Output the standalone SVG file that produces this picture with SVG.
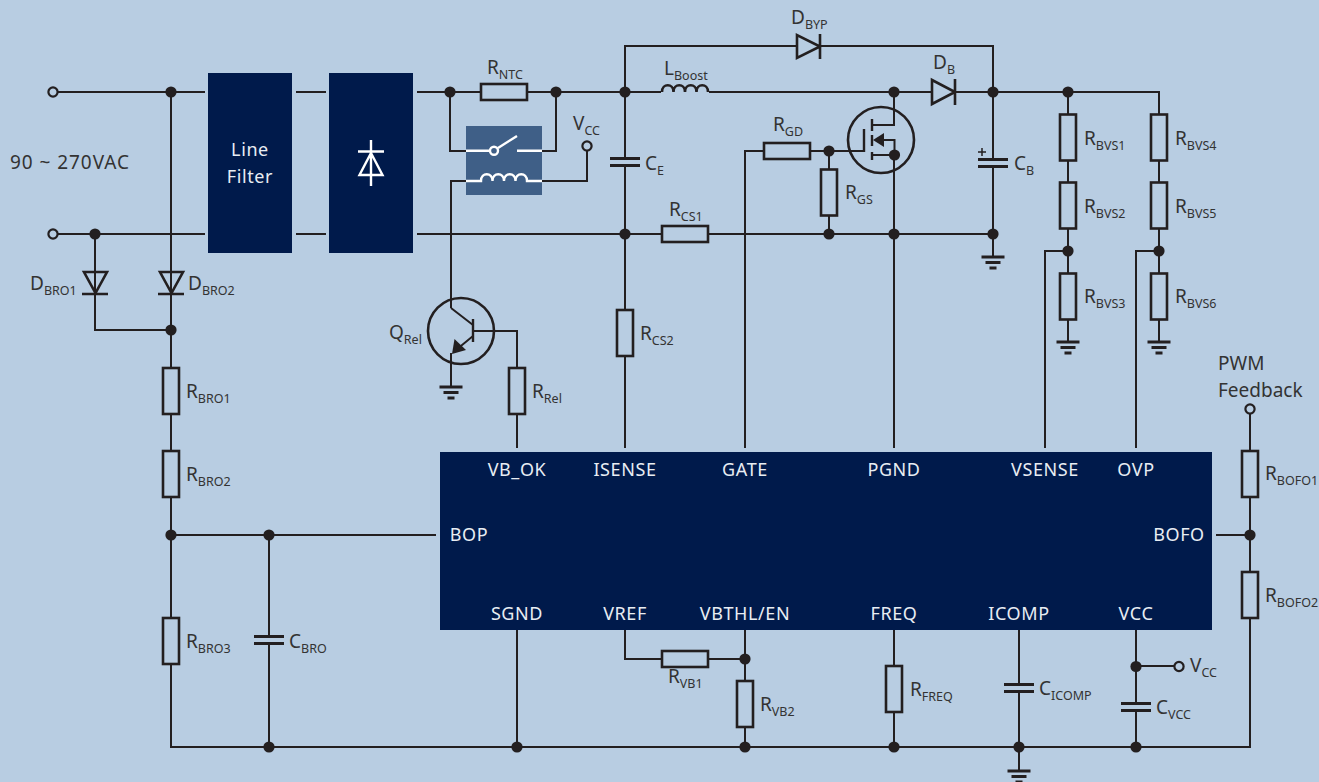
<svg xmlns="http://www.w3.org/2000/svg" xmlns:xlink="http://www.w3.org/1999/xlink" width="1319" height="782" viewBox="0 0 1319 782">
<style>
.w{fill:none;stroke:#231f20;stroke-width:2}
.r{fill:#b8cde2;stroke:#231f20;stroke-width:2.600}
.p{fill:none;stroke:#231f20;stroke-width:3}
.f{fill:#231f20;stroke:none}
.c{fill:#b8cde2;stroke:#231f20;stroke-width:2.200}
.b{fill:#001a4b}
.wh{fill:none;stroke:#fff;stroke-width:2.400}
text{font-family:"Noto Sans","Open Sans",sans-serif;font-size:19px;fill:#333}
.s{font-size:12.500px}
.t{fill:#e8edf3;font-size:18px;text-anchor:middle;letter-spacing:.6px}
</style>
<defs>
<circle id="dot" r="5.600" class="f"/>
<circle id="term" r="4.600" class="c"/>
<rect id="rh" x="-23" y="-8" width="46" height="16" class="r"/>
<rect id="rv" x="-8" y="-23" width="16" height="46" class="r"/>
<g id="cap"><rect x="-15" y="-6" width="30" height="9" fill="#b8cde2"/><path class="p" d="M-15-4.500H15M-15 2.500H15"/></g>
<path id="gnd" class="p" d="M-11.500 0H11.500M-7.500 5.500H7.500M-3.500 11H3.500"/>
</defs>
<rect width="1319" height="782" fill="#b8cde2"/>
<g id="connectors" class="w">
<path d="M53 92H205M296 92H326M417 92H1159V251M53 234H205M296 234H326M417 234H993V257"/>
<path d="M625 92V46H993V234M625 92V448M450 92V151H466M556 92V151H542M542 181H587V151M466 181H451V308"/>
<path d="M171 92V747H1250V409M95 234V330H171M171 535H436M269 535V747"/>
<path d="M451 308L473 325M473 331H517V448M473 336L456 350M451 353V387"/>
<path d="M894 92V125H872M894 155H872M864 151H829M884 140H894.500V155M894 125V100M894 155V448M745 448V151H829M829 151V234"/>
<path d="M1068 92V342M1068 251H1045V448M1159 251H1136V448M1159 251V342"/>
<path d="M1216 535H1250M517 630V747M625 630V659H745M745 630V747M894 630V747M1019 630V771M1136 630V747M1136 666H1174"/>
</g>
<g id="line-filter"><rect class="b" x="208" y="73" width="84" height="180"/><text class="t" x="250" y="156">Line</text><text class="t" x="250" y="183">Filter</text></g>
<g id="rectifier"><rect class="b" x="329" y="73" width="84" height="180"/><path class="wh" d="M371 140V186M358 151.500H384M371 153L359.500 175H382.500Z"/></g>
<g id="relay"><rect x="466" y="126" width="76" height="69" fill="#3f5f87"/><path class="wh" d="M466 150.700H490M498 148L517 136M517 150.700H542M466 181H481C481 172 492.500 172 492.500 181C492.500 172 504 172 504 181C504 172 515.500 172 515.500 181C515.500 172 527 172 527 181H542"/><circle cx="494" cy="150.700" r="4" fill="#3f5f87" stroke="#fff" stroke-width="2.400"/></g>
<g id="term-in1"><use xlink:href="#term" x="53" y="92"/></g>
<g id="term-in2"><use xlink:href="#term" x="53" y="234"/></g>
<text x="10" y="169" style="letter-spacing:.95px">90 ~ 270VAC</text>
<g id="D-BRO1"><path class="r" style="fill:none" d="M84 272H107L95.500 293ZM82 294H108"/><text x="30" y="290">D<tspan class="s" dy="5">BRO1</tspan></text></g>
<g id="D-BRO2"><path class="r" style="fill:none" d="M160 272H183L171.500 293ZM158 294H184"/><text x="188" y="290">D<tspan class="s" dy="5">BRO2</tspan></text></g>
<g id="R-BRO1"><use xlink:href="#rv" x="171" y="391"/><text x="186" y="398">R<tspan class="s" dy="5">BRO1</tspan></text></g>
<g id="R-BRO2"><use xlink:href="#rv" x="171" y="474"/><text x="186" y="481">R<tspan class="s" dy="5">BRO2</tspan></text></g>
<g id="R-BRO3"><use xlink:href="#rv" x="171" y="641"/><text x="186" y="648">R<tspan class="s" dy="5">BRO3</tspan></text></g>
<g id="C-BRO"><use xlink:href="#cap" x="269" y="641"/><text x="289" y="648">C<tspan class="s" dy="5">BRO</tspan></text></g>
<g id="R-NTC"><use xlink:href="#rh" x="504" y="92"/><text x="487" y="74">R<tspan class="s" dy="5">NTC</tspan></text></g>
<g id="term-vcc1"><use xlink:href="#term" x="587" y="146"/><text x="573" y="130">V<tspan class="s" dy="5">CC</tspan></text></g>
<g id="C-E"><use xlink:href="#cap" x="625" y="163"/><text x="645" y="170">C<tspan class="s" dy="5">E</tspan></text></g>
<g id="R-CS1"><use xlink:href="#rh" x="685" y="234"/><text x="669" y="216">R<tspan class="s" dy="5">CS1</tspan></text></g>
<g id="R-CS2"><use xlink:href="#rv" x="625" y="333"/><text x="640" y="340">R<tspan class="s" dy="5">CS2</tspan></text></g>
<g id="L-Boost"><rect x="661" y="84" width="48" height="10" fill="#b8cde2"/><path class="r" style="fill:none" d="M662 92C662 83 673.500 83 673.500 92C673.500 83 685 83 685 92C685 83 696.500 83 696.500 92C696.500 83 708 83 708 92"/><text x="664" y="75">L<tspan class="s" dy="5">Boost</tspan></text></g>
<g id="D-BYP"><path class="r" d="M797 35V58L820 46.500ZM820 34V59"/><text x="791" y="24">D<tspan class="s" dy="5">BYP</tspan></text></g>
<g id="D-B"><path class="r" d="M932 80V104L955 92ZM955 79V105"/><text x="933" y="69">D<tspan class="s" dy="5">B</tspan></text></g>
<g id="R-GD"><use xlink:href="#rh" x="787" y="151"/><text x="773" y="131">R<tspan class="s" dy="5">GD</tspan></text></g>
<g id="R-GS"><use xlink:href="#rv" x="829" y="192.500"/><text x="845" y="199">R<tspan class="s" dy="5">GS</tspan></text></g>
<g id="Q-MOS"><circle cx="881" cy="140" r="33" class="r" style="fill:none"/><path class="p" d="M864 129V152M872 119V131M872 135V146M872 152V160" style="stroke-width:2.400"/><path class="f" d="M873 140L884 133V147Z"/></g>
<g id="C-B"><use xlink:href="#cap" x="993" y="164"/><path class="w" style="stroke-width:1.500" d="M978 152H986M982 148V156"/><text x="1014" y="170">C<tspan class="s" dy="5">B</tspan></text></g>
<g id="gnd-cb"><use xlink:href="#gnd" x="993" y="257"/></g>
<g id="Q-Rel"><circle cx="461" cy="331" r="33" class="r" style="fill:none"/><path class="p" d="M473 319V342" style="stroke-width:2.400"/><path class="f" d="M452 354L454.500 339L466 350Z"/><text x="389" y="339">Q<tspan class="s" dy="5">Rel</tspan></text></g>
<g id="gnd-q"><use xlink:href="#gnd" x="451" y="387"/></g>
<g id="R-Rel"><use xlink:href="#rv" x="517" y="391"/><text x="532" y="398">R<tspan class="s" dy="5">Rel</tspan></text></g>
<g id="R-BVS1"><use xlink:href="#rv" x="1068" y="137.500"/><text x="1084" y="145">R<tspan class="s" dy="5">BVS1</tspan></text></g>
<g id="R-BVS2"><use xlink:href="#rv" x="1068" y="205.500"/><text x="1084" y="213">R<tspan class="s" dy="5">BVS2</tspan></text></g>
<g id="R-BVS3"><use xlink:href="#rv" x="1068" y="296.500"/><text x="1084" y="303">R<tspan class="s" dy="5">BVS3</tspan></text></g>
<g id="gnd-bvs3"><use xlink:href="#gnd" x="1068" y="342"/></g>
<g id="R-BVS4"><use xlink:href="#rv" x="1159" y="137.500"/><text x="1175" y="145">R<tspan class="s" dy="5">BVS4</tspan></text></g>
<g id="R-BVS5"><use xlink:href="#rv" x="1159" y="205.500"/><text x="1175" y="213">R<tspan class="s" dy="5">BVS5</tspan></text></g>
<g id="R-BVS6"><use xlink:href="#rv" x="1159" y="296.500"/><text x="1175" y="303">R<tspan class="s" dy="5">BVS6</tspan></text></g>
<g id="gnd-bvs6"><use xlink:href="#gnd" x="1159" y="342"/></g>
<g id="chip"><rect class="b" x="440" y="452" width="772" height="178"/>
<text class="t" x="517" y="476">VB_OK</text><text class="t" x="625" y="476">ISENSE</text><text class="t" x="745" y="476">GATE</text><text class="t" x="894" y="476">PGND</text><text class="t" x="1045" y="476">VSENSE</text><text class="t" x="1136" y="476">OVP</text>
<text class="t" x="469" y="541">BOP</text><text class="t" x="1179" y="541">BOFO</text>
<text class="t" x="517" y="620">SGND</text><text class="t" x="625" y="620">VREF</text><text class="t" x="745" y="620">VBTHL/EN</text><text class="t" x="894" y="620">FREQ</text><text class="t" x="1019" y="620">ICOMP</text><text class="t" x="1136" y="620">VCC</text></g>
<g id="R-BOFO1"><use xlink:href="#rv" x="1250" y="474"/><text x="1265" y="480">R<tspan class="s" dy="5">BOFO1</tspan></text></g>
<g id="R-BOFO2"><use xlink:href="#rv" x="1250" y="595"/><text x="1265" y="602">R<tspan class="s" dy="5">BOFO2</tspan></text></g>
<g id="term-pwm"><use xlink:href="#term" x="1250" y="409"/><text x="1218" y="370">PWM</text><text x="1218" y="397">Feedback</text></g>
<g id="R-VB1"><use xlink:href="#rh" x="685" y="659"/><text x="668" y="683">R<tspan class="s" dy="5">VB1</tspan></text></g>
<g id="R-VB2"><use xlink:href="#rv" x="745" y="704"/><text x="760" y="711">R<tspan class="s" dy="5">VB2</tspan></text></g>
<g id="R-FREQ"><use xlink:href="#rv" x="894" y="689"/><text x="910" y="696">R<tspan class="s" dy="5">FREQ</tspan></text></g>
<g id="C-ICOMP"><use xlink:href="#cap" x="1019" y="689"/><text x="1039" y="695">C<tspan class="s" dy="5">ICOMP</tspan></text></g>
<g id="C-VCC"><use xlink:href="#cap" x="1136" y="708"/><text x="1156" y="714">C<tspan class="s" dy="5">VCC</tspan></text></g>
<g id="term-vcc2"><use xlink:href="#term" x="1179" y="666.500"/><text x="1190" y="672">V<tspan class="s" dy="5">CC</tspan></text></g>
<g id="gnd-main"><use xlink:href="#gnd" x="1019" y="771"/></g>
<g id="junctions">
<use xlink:href="#dot" x="171" y="92"/><use xlink:href="#dot" x="95" y="234"/><use xlink:href="#dot" x="171" y="330"/><use xlink:href="#dot" x="171" y="535"/><use xlink:href="#dot" x="269" y="535"/><use xlink:href="#dot" x="269" y="747"/>
<use xlink:href="#dot" x="450" y="92"/><use xlink:href="#dot" x="556" y="92"/><use xlink:href="#dot" x="625" y="92"/><use xlink:href="#dot" x="894" y="92"/><use xlink:href="#dot" x="993" y="92"/><use xlink:href="#dot" x="1068" y="92"/>
<use xlink:href="#dot" x="625" y="234"/><use xlink:href="#dot" x="829" y="234"/><use xlink:href="#dot" x="894" y="234"/><use xlink:href="#dot" x="993" y="234"/><use xlink:href="#dot" x="829" y="151"/><use xlink:href="#dot" x="894.500" y="155"/>
<use xlink:href="#dot" x="1068" y="251"/><use xlink:href="#dot" x="1159" y="251"/><use xlink:href="#dot" x="1250" y="535"/><use xlink:href="#dot" x="745" y="659"/>
<use xlink:href="#dot" x="517" y="747"/><use xlink:href="#dot" x="745" y="747"/><use xlink:href="#dot" x="894" y="747"/><use xlink:href="#dot" x="1019" y="747"/><use xlink:href="#dot" x="1136" y="747"/><use xlink:href="#dot" x="1136" y="666.500"/>
</g>
</svg>
